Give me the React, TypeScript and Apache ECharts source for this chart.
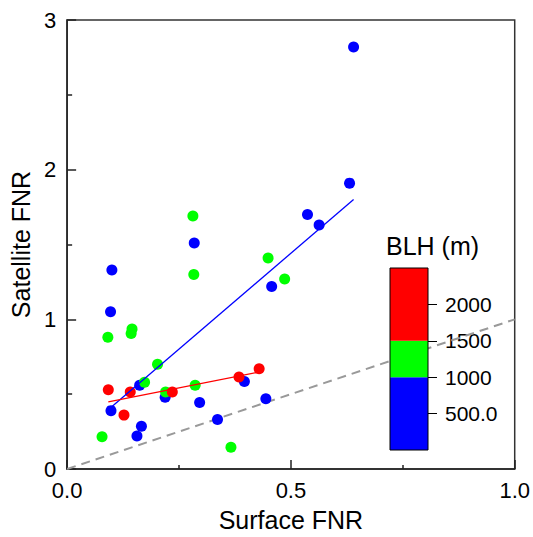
import React, { useEffect, useRef } from "react";
import * as echarts from "echarts";

const blueX = [0.640, 0.631, 0.537, 0.563, 0.457, 0.284, 0.100, 0.097, 0.162, 0.219, 0.296, 0.396, 0.444, 0.336, 0.098, 0.166, 0.156];
const blueY = [2.82, 1.91, 1.70, 1.63, 1.22, 1.51, 1.33, 1.05, 0.56, 0.48, 0.445, 0.585, 0.47, 0.33, 0.39, 0.285, 0.22];

const greenX = [0.281, 0.283, 0.449, 0.486, 0.091, 0.145, 0.143, 0.202, 0.173, 0.220, 0.286, 0.078, 0.366];
const greenY = [1.69, 1.30, 1.41, 1.27, 0.88, 0.935, 0.905, 0.70, 0.58, 0.515, 0.56, 0.215, 0.145];

const redX = [0.092, 0.141, 0.235, 0.384, 0.429, 0.127];
const redY = [0.53, 0.515, 0.515, 0.615, 0.67, 0.36];

// fitted lines (end points)
const blueFitX = [0.097, 0.640];
const blueFitY = [0.41, 1.80];
const redFitX = [0.092, 0.429];
const redFitY = [0.448, 0.648];

// 1:1 reference line
const refX = [0, 1];
const refY = [0, 1];

// colour bar (BLH, m)
const blhBounds = [0, 1000, 1500, 2500];
const blhColors = ["#0000ff", "#00ff00", "#ff0000"];
const blhTickValues = [500, 1000, 1500, 2000];
const blhTickLabels = ["500.0", "1000", "1500", "2000"];

const xTickLabels = ["0.0", "0.5", "1.0"];
const yTickLabels = ["0", "1", "2", "3"];

const FONT = "Liberation Sans, Arial, sans-serif";

const zip = (xs: number[], ys: number[]) => xs.map((x, i) => [x, ys[i]]);

export default function App() {
  const ref = useRef<HTMLDivElement>(null);
  useEffect(() => {
    if (!ref.current) return;
    const chart = echarts.init(ref.current, null, { renderer: "svg" });
    const segs = blhColors.map((c, i) => ({
      type: "bar",
      xAxisIndex: 1,
      yAxisIndex: 1,
      stack: "blh",
      barWidth: "100%",
      data: [blhBounds[i + 1] - blhBounds[i]],
      itemStyle: { color: c },
      z: 2,
    }));
    chart.setOption({
      animation: false,
      textStyle: { fontFamily: FONT, color: "#000" },
      grid: [
        {
          left: 66, top: 20, right: 18, bottom: 62,
          show: true, borderColor: "#333", borderWidth: 1.5, backgroundColor: "transparent",
        },
        {
          left: 390, top: 268, width: 38, height: 182,
          show: true, borderColor: "#000", borderWidth: 1, backgroundColor: "transparent", z: 5,
        },
      ],
      xAxis: [
        {
          type: "value", gridIndex: 0, min: 0, max: 1, interval: 0.5,
          name: "Surface FNR", nameLocation: "middle", nameGap: 38,
          nameTextStyle: { fontSize: 25, color: "#000", fontFamily: FONT },
          axisLine: { show: true, lineStyle: { color: "#222", width: 1.5 } },
          axisTick: { show: true, inside: true, length: 9, lineStyle: { color: "#222", width: 1.5 } },
          minorTick: { show: true, splitNumber: 2, length: 4, lineStyle: { color: "#222", width: 1.5 } },
          splitLine: { show: false },
          axisLabel: {
            fontSize: 22, color: "#000", margin: 10, fontFamily: FONT,
            formatter: (v: number) => xTickLabels[Math.round(v / 0.5)] ?? "",
          },
        },
        {
          type: "category", gridIndex: 1, data: ["BLH"], show: false,
        },
      ],
      yAxis: [
        {
          type: "value", gridIndex: 0, min: 0, max: 3, interval: 1,
          name: "Satellite FNR", nameLocation: "middle", nameGap: 31,
          nameTextStyle: { fontSize: 25, color: "#000", fontFamily: FONT },
          axisLine: { show: true, lineStyle: { color: "#222", width: 1.5 } },
          axisTick: { show: true, inside: true, length: 9, lineStyle: { color: "#222", width: 1.5 } },
          minorTick: { show: true, splitNumber: 2, length: 5, lineStyle: { color: "#222", width: 1.5 } },
          splitLine: { show: false },
          axisLabel: {
            fontSize: 22, color: "#000", margin: 11, fontFamily: FONT,
            formatter: (v: number) => yTickLabels[Math.round(v)] ?? "",
          },
        },
        {
          type: "value", gridIndex: 1, position: "right",
          min: blhBounds[0], max: blhBounds[blhBounds.length - 1], interval: 500,
          axisLine: { show: false },
          splitLine: { show: false },
          axisTick: {
            show: true, inside: false, length: 9, customValues: blhTickValues,
            lineStyle: { color: "#000", width: 1 },
          },
          axisLabel: {
            show: true, fontSize: 21, color: "#000", margin: 17, fontFamily: FONT,
            customValues: blhTickValues,
            formatter: (v: number) => {
              const i = blhTickValues.indexOf(v);
              return i >= 0 ? blhTickLabels[i] : "";
            },
          },
        },
      ],
      graphic: [
        {
          type: "text",
          left: 386,
          top: 233,
          style: { text: "BLH (m)", fontSize: 25, fontFamily: FONT, fill: "#000" },
          z: 10,
        },
      ],
      series: [
        {
          type: "line", data: zip(refX, refY), symbol: "none",
          lineStyle: { color: "#999", width: 2, type: [9, 6] }, z: 1, silent: true,
        },
        {
          type: "scatter", data: zip(blueX, blueY), symbolSize: 11,
          itemStyle: { color: "#0000ff", opacity: 1 }, z: 3,
        },
        {
          type: "scatter", data: zip(greenX, greenY), symbolSize: 11,
          itemStyle: { color: "#00ff00", opacity: 1 }, z: 3,
        },
        {
          type: "scatter", data: zip(redX, redY), symbolSize: 11,
          itemStyle: { color: "#ff0000", opacity: 1 }, z: 3,
        },
        {
          type: "line", data: zip(blueFitX, blueFitY), symbol: "none",
          lineStyle: { color: "#0000ff", width: 1.3 }, z: 4,
        },
        {
          type: "line", data: zip(redFitX, redFitY), symbol: "none",
          lineStyle: { color: "#ff0000", width: 1.3 }, z: 4,
        },
        ...segs,
      ],
    });
    return () => chart.dispose();
  }, []);
  return (
    <div
      ref={ref}
      style={{ position: "fixed", left: 0, top: 0, width: 533, height: 537, background: "#fff" }}
    />
  );
}
